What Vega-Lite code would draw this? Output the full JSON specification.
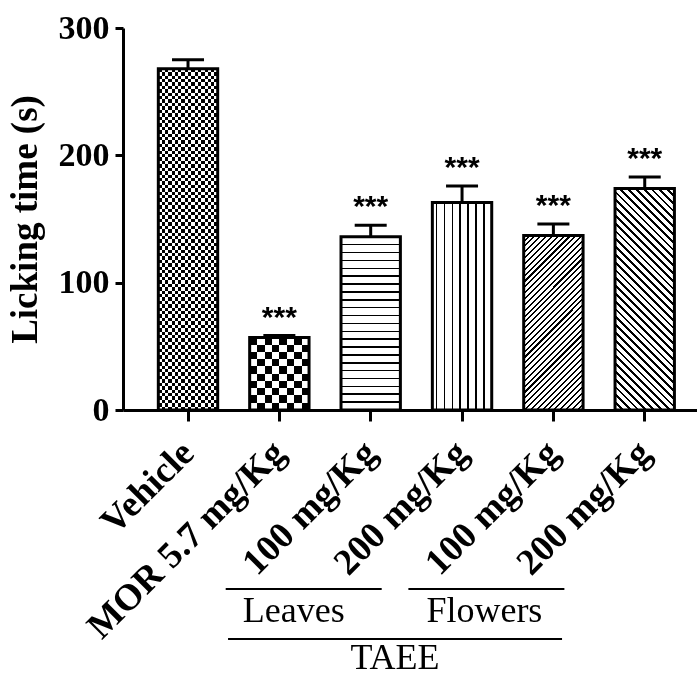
{
  "$schema": "https://vega.github.io/schema/vega-lite/v6.json",
  "width": 574,
  "height": 382,
  "autosize": "none",
  "padding": {"left": 123, "top": 28, "right": 0, "bottom": 263},
  "config": {"view": {"stroke": null}, "axis": {"domainColor": "#000", "tickColor": "#000", "labelColor": "#000", "titleColor": "#000", "grid": false}},
  "data": {"values": [
      {"key": "Vehicle", "mean": 268, "upper": 275, "sig": ""},
      {"key": "MOR", "mean": 57, "upper": 58.5, "sig": "***"},
      {"key": "L100", "mean": 136, "upper": 145, "sig": "***"},
      {"key": "L200", "mean": 163, "upper": 176, "sig": "***"},
      {"key": "F100", "mean": 137, "upper": 146, "sig": "***"},
      {"key": "F200", "mean": 174, "upper": 183, "sig": "***"}
  ]},
  "encoding": {
    "x": {
      "field": "key", "type": "nominal",
      "scale": {"domain": ["Vehicle", "MOR", "L100", "L200", "F100", "F200"], "paddingInner": 0.35, "paddingOuter": 0.317, "align": 0.61},
      "axis": {"title": null, "labelExpr": "datum.value == 'Vehicle' ? 'Vehicle' : datum.value == 'MOR' ? 'MOR 5.7 mg/Kg' : (datum.value == 'L100' || datum.value == 'F100') ? '100 mg/Kg' : '200 mg/Kg'", "labelAngle": -45, "labelAlign": "right", "labelBaseline": "middle", "labelFont": "Liberation Serif", "labelFontSize": 37, "labelFontWeight": "bold", "labelPadding": 26, "labelLimit": 500, "labelOverlap": false, "tickSize": 11, "tickWidth": 3, "domainWidth": 3}
    },
    "y": {
      "field": "mean", "type": "quantitative",
      "scale": {"domain": [0, 300], "nice": false},
      "axis": {"values": [0, 100, 200, 300], "title": "Licking time (s)", "titleFont": "Liberation Serif", "titleFontSize": 37, "titleFontWeight": "bold", "titlePadding": 14, "labelFont": "Liberation Serif", "labelFontSize": 34, "labelFontWeight": "bold", "labelPadding": 6, "labelFlush": false, "labelOverlap": false, "tickSize": 8, "tickWidth": 3, "domainWidth": 3}
    }
  },
  "layer": [
    {
      "transform": [{"filter": "datum.key == 'Vehicle'"}],
      "mark": {"type": "bar", "strokeWidth": 0, "fill": {"gradient": "linear", "x1": 0, "y1": 0, "x2": 1, "y2": 0, "stops": [{"offset":0,"color":"#000"},{"offset":0.0556,"color":"#000"},{"offset":0.0556,"color":"#fff"},{"offset":0.1111,"color":"#fff"},{"offset":0.1111,"color":"#000"},{"offset":0.1667,"color":"#000"},{"offset":0.1667,"color":"#fff"},{"offset":0.2222,"color":"#fff"},{"offset":0.2222,"color":"#000"},{"offset":0.2778,"color":"#000"},{"offset":0.2778,"color":"#fff"},{"offset":0.3333,"color":"#fff"},{"offset":0.3333,"color":"#000"},{"offset":0.3889,"color":"#000"},{"offset":0.3889,"color":"#fff"},{"offset":0.4444,"color":"#fff"},{"offset":0.4444,"color":"#000"},{"offset":0.5,"color":"#000"},{"offset":0.5,"color":"#fff"},{"offset":0.5556,"color":"#fff"},{"offset":0.5556,"color":"#000"},{"offset":0.6111,"color":"#000"},{"offset":0.6111,"color":"#fff"},{"offset":0.6667,"color":"#fff"},{"offset":0.6667,"color":"#000"},{"offset":0.7222,"color":"#000"},{"offset":0.7222,"color":"#fff"},{"offset":0.7778,"color":"#fff"},{"offset":0.7778,"color":"#000"},{"offset":0.8333,"color":"#000"},{"offset":0.8333,"color":"#fff"},{"offset":0.8889,"color":"#fff"},{"offset":0.8889,"color":"#000"},{"offset":0.9444,"color":"#000"},{"offset":0.9444,"color":"#fff"},{"offset":1,"color":"#fff"}]}}
    },
    {
      "transform": [{"filter": "datum.key == 'Vehicle'"}],
      "mark": {"type": "bar", "strokeWidth": 0, "blend": "difference", "fill": {"gradient": "linear", "x1": 0, "y1": 0, "x2": 0, "y2": 1, "stops": [{"offset":0,"color":"#000"},
{"offset":0.01,"color":"#000"},{"offset":0.01,"color":"#fff"},{"offset":0.02,"color":"#fff"},{"offset":0.02,"color":"#000"},
{"offset":0.03,"color":"#000"},{"offset":0.03,"color":"#fff"},{"offset":0.04,"color":"#fff"},{"offset":0.04,"color":"#000"},
{"offset":0.05,"color":"#000"},{"offset":0.05,"color":"#fff"},{"offset":0.06,"color":"#fff"},{"offset":0.06,"color":"#000"},
{"offset":0.07,"color":"#000"},{"offset":0.07,"color":"#fff"},{"offset":0.08,"color":"#fff"},{"offset":0.08,"color":"#000"},
{"offset":0.09,"color":"#000"},{"offset":0.09,"color":"#fff"},{"offset":0.10,"color":"#fff"},{"offset":0.10,"color":"#000"},
{"offset":0.11,"color":"#000"},{"offset":0.11,"color":"#fff"},{"offset":0.12,"color":"#fff"},{"offset":0.12,"color":"#000"},
{"offset":0.13,"color":"#000"},{"offset":0.13,"color":"#fff"},{"offset":0.14,"color":"#fff"},{"offset":0.14,"color":"#000"},
{"offset":0.15,"color":"#000"},{"offset":0.15,"color":"#fff"},{"offset":0.16,"color":"#fff"},{"offset":0.16,"color":"#000"},
{"offset":0.17,"color":"#000"},{"offset":0.17,"color":"#fff"},{"offset":0.18,"color":"#fff"},{"offset":0.18,"color":"#000"},
{"offset":0.19,"color":"#000"},{"offset":0.19,"color":"#fff"},{"offset":0.20,"color":"#fff"},{"offset":0.20,"color":"#000"},
{"offset":0.21,"color":"#000"},{"offset":0.21,"color":"#fff"},{"offset":0.22,"color":"#fff"},{"offset":0.22,"color":"#000"},
{"offset":0.23,"color":"#000"},{"offset":0.23,"color":"#fff"},{"offset":0.24,"color":"#fff"},{"offset":0.24,"color":"#000"},
{"offset":0.25,"color":"#000"},{"offset":0.25,"color":"#fff"},{"offset":0.26,"color":"#fff"},{"offset":0.26,"color":"#000"},
{"offset":0.27,"color":"#000"},{"offset":0.27,"color":"#fff"},{"offset":0.28,"color":"#fff"},{"offset":0.28,"color":"#000"},
{"offset":0.29,"color":"#000"},{"offset":0.29,"color":"#fff"},{"offset":0.30,"color":"#fff"},{"offset":0.30,"color":"#000"},
{"offset":0.31,"color":"#000"},{"offset":0.31,"color":"#fff"},{"offset":0.32,"color":"#fff"},{"offset":0.32,"color":"#000"},
{"offset":0.33,"color":"#000"},{"offset":0.33,"color":"#fff"},{"offset":0.34,"color":"#fff"},{"offset":0.34,"color":"#000"},
{"offset":0.35,"color":"#000"},{"offset":0.35,"color":"#fff"},{"offset":0.36,"color":"#fff"},{"offset":0.36,"color":"#000"},
{"offset":0.37,"color":"#000"},{"offset":0.37,"color":"#fff"},{"offset":0.38,"color":"#fff"},{"offset":0.38,"color":"#000"},
{"offset":0.39,"color":"#000"},{"offset":0.39,"color":"#fff"},{"offset":0.40,"color":"#fff"},{"offset":0.40,"color":"#000"},
{"offset":0.41,"color":"#000"},{"offset":0.41,"color":"#fff"},{"offset":0.42,"color":"#fff"},{"offset":0.42,"color":"#000"},
{"offset":0.43,"color":"#000"},{"offset":0.43,"color":"#fff"},{"offset":0.44,"color":"#fff"},{"offset":0.44,"color":"#000"},
{"offset":0.45,"color":"#000"},{"offset":0.45,"color":"#fff"},{"offset":0.46,"color":"#fff"},{"offset":0.46,"color":"#000"},
{"offset":0.47,"color":"#000"},{"offset":0.47,"color":"#fff"},{"offset":0.48,"color":"#fff"},{"offset":0.48,"color":"#000"},
{"offset":0.49,"color":"#000"},{"offset":0.49,"color":"#fff"},{"offset":0.50,"color":"#fff"},{"offset":0.50,"color":"#000"},
{"offset":0.51,"color":"#000"},{"offset":0.51,"color":"#fff"},{"offset":0.52,"color":"#fff"},{"offset":0.52,"color":"#000"},
{"offset":0.53,"color":"#000"},{"offset":0.53,"color":"#fff"},{"offset":0.54,"color":"#fff"},{"offset":0.54,"color":"#000"},
{"offset":0.55,"color":"#000"},{"offset":0.55,"color":"#fff"},{"offset":0.56,"color":"#fff"},{"offset":0.56,"color":"#000"},
{"offset":0.57,"color":"#000"},{"offset":0.57,"color":"#fff"},{"offset":0.58,"color":"#fff"},{"offset":0.58,"color":"#000"},
{"offset":0.59,"color":"#000"},{"offset":0.59,"color":"#fff"},{"offset":0.60,"color":"#fff"},{"offset":0.60,"color":"#000"},
{"offset":0.61,"color":"#000"},{"offset":0.61,"color":"#fff"},{"offset":0.62,"color":"#fff"},{"offset":0.62,"color":"#000"},
{"offset":0.63,"color":"#000"},{"offset":0.63,"color":"#fff"},{"offset":0.64,"color":"#fff"},{"offset":0.64,"color":"#000"},
{"offset":0.65,"color":"#000"},{"offset":0.65,"color":"#fff"},{"offset":0.66,"color":"#fff"},{"offset":0.66,"color":"#000"},
{"offset":0.67,"color":"#000"},{"offset":0.67,"color":"#fff"},{"offset":0.68,"color":"#fff"},{"offset":0.68,"color":"#000"},
{"offset":0.69,"color":"#000"},{"offset":0.69,"color":"#fff"},{"offset":0.70,"color":"#fff"},{"offset":0.70,"color":"#000"},
{"offset":0.71,"color":"#000"},{"offset":0.71,"color":"#fff"},{"offset":0.72,"color":"#fff"},{"offset":0.72,"color":"#000"},
{"offset":0.73,"color":"#000"},{"offset":0.73,"color":"#fff"},{"offset":0.74,"color":"#fff"},{"offset":0.74,"color":"#000"},
{"offset":0.75,"color":"#000"},{"offset":0.75,"color":"#fff"},{"offset":0.76,"color":"#fff"},{"offset":0.76,"color":"#000"},
{"offset":0.77,"color":"#000"},{"offset":0.77,"color":"#fff"},{"offset":0.78,"color":"#fff"},{"offset":0.78,"color":"#000"},
{"offset":0.79,"color":"#000"},{"offset":0.79,"color":"#fff"},{"offset":0.80,"color":"#fff"},{"offset":0.80,"color":"#000"},
{"offset":0.81,"color":"#000"},{"offset":0.81,"color":"#fff"},{"offset":0.82,"color":"#fff"},{"offset":0.82,"color":"#000"},
{"offset":0.83,"color":"#000"},{"offset":0.83,"color":"#fff"},{"offset":0.84,"color":"#fff"},{"offset":0.84,"color":"#000"},
{"offset":0.85,"color":"#000"},{"offset":0.85,"color":"#fff"},{"offset":0.86,"color":"#fff"},{"offset":0.86,"color":"#000"},
{"offset":0.87,"color":"#000"},{"offset":0.87,"color":"#fff"},{"offset":0.88,"color":"#fff"},{"offset":0.88,"color":"#000"},
{"offset":0.89,"color":"#000"},{"offset":0.89,"color":"#fff"},{"offset":0.90,"color":"#fff"},{"offset":0.90,"color":"#000"},
{"offset":0.91,"color":"#000"},{"offset":0.91,"color":"#fff"},{"offset":0.92,"color":"#fff"},{"offset":0.92,"color":"#000"},
{"offset":0.93,"color":"#000"},{"offset":0.93,"color":"#fff"},{"offset":0.94,"color":"#fff"},{"offset":0.94,"color":"#000"},
{"offset":0.95,"color":"#000"},{"offset":0.95,"color":"#fff"},{"offset":0.96,"color":"#fff"},{"offset":0.96,"color":"#000"},
{"offset":0.97,"color":"#000"},{"offset":0.97,"color":"#fff"},{"offset":0.98,"color":"#fff"},{"offset":0.98,"color":"#000"},
{"offset":0.99,"color":"#000"},{"offset":0.99,"color":"#fff"},{"offset":1,"color":"#fff"}]}}
    },
    {
      "transform": [{"filter": "datum.key == 'MOR'"}],
      "mark": {"type": "bar", "strokeWidth": 0, "fill": {"gradient": "linear", "x1": 0, "y1": 0, "x2": 1, "y2": 0, "stops": [{"offset":0,"color":"#000"},{"offset":0.125,"color":"#000"},{"offset":0.125,"color":"#fff"},{"offset":0.25,"color":"#fff"},{"offset":0.25,"color":"#000"},{"offset":0.375,"color":"#000"},{"offset":0.375,"color":"#fff"},{"offset":0.5,"color":"#fff"},{"offset":0.5,"color":"#000"},{"offset":0.625,"color":"#000"},{"offset":0.625,"color":"#fff"},{"offset":0.75,"color":"#fff"},{"offset":0.75,"color":"#000"},{"offset":0.875,"color":"#000"},{"offset":0.875,"color":"#fff"},{"offset":1,"color":"#fff"}]}}
    },
    {
      "transform": [{"filter": "datum.key == 'MOR'"}],
      "mark": {"type": "bar", "strokeWidth": 0, "blend": "difference", "fill": {"gradient": "linear", "x1": 0, "y1": 0, "x2": 0, "y2": 1, "stops": [{"offset":0,"color":"#000"},{"offset":0.1,"color":"#000"},{"offset":0.1,"color":"#fff"},{"offset":0.2,"color":"#fff"},{"offset":0.2,"color":"#000"},{"offset":0.3,"color":"#000"},{"offset":0.3,"color":"#fff"},{"offset":0.4,"color":"#fff"},{"offset":0.4,"color":"#000"},{"offset":0.5,"color":"#000"},{"offset":0.5,"color":"#fff"},{"offset":0.6,"color":"#fff"},{"offset":0.6,"color":"#000"},{"offset":0.7,"color":"#000"},{"offset":0.7,"color":"#fff"},{"offset":0.8,"color":"#fff"},{"offset":0.8,"color":"#000"},{"offset":0.9,"color":"#000"},{"offset":0.9,"color":"#fff"},{"offset":1,"color":"#fff"}]}}
    },
    {
      "transform": [{"filter": "datum.key == 'L100'"}],
      "mark": {"type": "bar", "strokeWidth": 0, "fill": {"gradient": "linear", "x1": 0, "y1": 0, "x2": 0, "y2": 1, "stops": [{"offset":0,"color":"#fff"},
{"offset":0.0410,"color":"#fff"},{"offset":0.0410,"color":"#000"},{"offset":0.0500,"color":"#000"},{"offset":0.0500,"color":"#fff"},
{"offset":0.0864,"color":"#fff"},{"offset":0.0864,"color":"#000"},{"offset":0.0954,"color":"#000"},{"offset":0.0954,"color":"#fff"},
{"offset":0.1319,"color":"#fff"},{"offset":0.1319,"color":"#000"},{"offset":0.1409,"color":"#000"},{"offset":0.1409,"color":"#fff"},
{"offset":0.1773,"color":"#fff"},{"offset":0.1773,"color":"#000"},{"offset":0.1863,"color":"#000"},{"offset":0.1863,"color":"#fff"},
{"offset":0.2228,"color":"#fff"},{"offset":0.2228,"color":"#000"},{"offset":0.2318,"color":"#000"},{"offset":0.2318,"color":"#fff"},
{"offset":0.2682,"color":"#fff"},{"offset":0.2682,"color":"#000"},{"offset":0.2772,"color":"#000"},{"offset":0.2772,"color":"#fff"},
{"offset":0.3137,"color":"#fff"},{"offset":0.3137,"color":"#000"},{"offset":0.3227,"color":"#000"},{"offset":0.3227,"color":"#fff"},
{"offset":0.3591,"color":"#fff"},{"offset":0.3591,"color":"#000"},{"offset":0.3681,"color":"#000"},{"offset":0.3681,"color":"#fff"},
{"offset":0.4046,"color":"#fff"},{"offset":0.4046,"color":"#000"},{"offset":0.4136,"color":"#000"},{"offset":0.4136,"color":"#fff"},
{"offset":0.4500,"color":"#fff"},{"offset":0.4500,"color":"#000"},{"offset":0.4590,"color":"#000"},{"offset":0.4590,"color":"#fff"},
{"offset":0.4955,"color":"#fff"},{"offset":0.4955,"color":"#000"},{"offset":0.5045,"color":"#000"},{"offset":0.5045,"color":"#fff"},
{"offset":0.5410,"color":"#fff"},{"offset":0.5410,"color":"#000"},{"offset":0.5500,"color":"#000"},{"offset":0.5500,"color":"#fff"},
{"offset":0.5864,"color":"#fff"},{"offset":0.5864,"color":"#000"},{"offset":0.5954,"color":"#000"},{"offset":0.5954,"color":"#fff"},
{"offset":0.6319,"color":"#fff"},{"offset":0.6319,"color":"#000"},{"offset":0.6409,"color":"#000"},{"offset":0.6409,"color":"#fff"},
{"offset":0.6773,"color":"#fff"},{"offset":0.6773,"color":"#000"},{"offset":0.6863,"color":"#000"},{"offset":0.6863,"color":"#fff"},
{"offset":0.7228,"color":"#fff"},{"offset":0.7228,"color":"#000"},{"offset":0.7318,"color":"#000"},{"offset":0.7318,"color":"#fff"},
{"offset":0.7682,"color":"#fff"},{"offset":0.7682,"color":"#000"},{"offset":0.7772,"color":"#000"},{"offset":0.7772,"color":"#fff"},
{"offset":0.8137,"color":"#fff"},{"offset":0.8137,"color":"#000"},{"offset":0.8227,"color":"#000"},{"offset":0.8227,"color":"#fff"},
{"offset":0.8591,"color":"#fff"},{"offset":0.8591,"color":"#000"},{"offset":0.8681,"color":"#000"},{"offset":0.8681,"color":"#fff"},
{"offset":0.9046,"color":"#fff"},{"offset":0.9046,"color":"#000"},{"offset":0.9136,"color":"#000"},{"offset":0.9136,"color":"#fff"},
{"offset":0.9500,"color":"#fff"},{"offset":0.9500,"color":"#000"},{"offset":0.9590,"color":"#000"},{"offset":0.9590,"color":"#fff"},
{"offset":1,"color":"#fff"}]}}
    },
    {
      "transform": [{"filter": "datum.key == 'L200'"}],
      "mark": {"type": "bar", "strokeWidth": 0, "fill": {"gradient": "linear", "x1": 0, "y1": 0, "x2": 1, "y2": 0, "stops": [{"offset":0,"color":"#fff"},
{"offset":0.057,"color":"#fff"},{"offset":0.057,"color":"#000"},{"offset":0.083,"color":"#000"},{"offset":0.083,"color":"#fff"},
{"offset":0.190,"color":"#fff"},{"offset":0.190,"color":"#000"},{"offset":0.216,"color":"#000"},{"offset":0.216,"color":"#fff"},
{"offset":0.324,"color":"#fff"},{"offset":0.324,"color":"#000"},{"offset":0.350,"color":"#000"},{"offset":0.350,"color":"#fff"},
{"offset":0.457,"color":"#fff"},{"offset":0.457,"color":"#000"},{"offset":0.483,"color":"#000"},{"offset":0.483,"color":"#fff"},
{"offset":0.590,"color":"#fff"},{"offset":0.590,"color":"#000"},{"offset":0.616,"color":"#000"},{"offset":0.616,"color":"#fff"},
{"offset":0.724,"color":"#fff"},{"offset":0.724,"color":"#000"},{"offset":0.750,"color":"#000"},{"offset":0.750,"color":"#fff"},
{"offset":0.857,"color":"#fff"},{"offset":0.857,"color":"#000"},{"offset":0.883,"color":"#000"},{"offset":0.883,"color":"#fff"},
{"offset":1,"color":"#fff"}]}}
    },
    {
      "transform": [{"filter": "datum.key == 'F100'"}],
      "mark": {"type": "bar", "strokeWidth": 0, "fill": {"gradient": "linear", "x1": 0, "y1": 0, "x2": 0.409, "y2": 1.2008, "stops": [{"offset":0,"color":"#fff"},
{"offset":0.0205,"color":"#fff"},{"offset":0.0205,"color":"#000"},{"offset":0.0295,"color":"#000"},{"offset":0.0295,"color":"#fff"},
{"offset":0.0455,"color":"#fff"},{"offset":0.0455,"color":"#000"},{"offset":0.0545,"color":"#000"},{"offset":0.0545,"color":"#fff"},
{"offset":0.0705,"color":"#fff"},{"offset":0.0705,"color":"#000"},{"offset":0.0795,"color":"#000"},{"offset":0.0795,"color":"#fff"},
{"offset":0.0955,"color":"#fff"},{"offset":0.0955,"color":"#000"},{"offset":0.1045,"color":"#000"},{"offset":0.1045,"color":"#fff"},
{"offset":0.1205,"color":"#fff"},{"offset":0.1205,"color":"#000"},{"offset":0.1295,"color":"#000"},{"offset":0.1295,"color":"#fff"},
{"offset":0.1455,"color":"#fff"},{"offset":0.1455,"color":"#000"},{"offset":0.1545,"color":"#000"},{"offset":0.1545,"color":"#fff"},
{"offset":0.1705,"color":"#fff"},{"offset":0.1705,"color":"#000"},{"offset":0.1795,"color":"#000"},{"offset":0.1795,"color":"#fff"},
{"offset":0.1955,"color":"#fff"},{"offset":0.1955,"color":"#000"},{"offset":0.2045,"color":"#000"},{"offset":0.2045,"color":"#fff"},
{"offset":0.2205,"color":"#fff"},{"offset":0.2205,"color":"#000"},{"offset":0.2295,"color":"#000"},{"offset":0.2295,"color":"#fff"},
{"offset":0.2455,"color":"#fff"},{"offset":0.2455,"color":"#000"},{"offset":0.2545,"color":"#000"},{"offset":0.2545,"color":"#fff"},
{"offset":0.2705,"color":"#fff"},{"offset":0.2705,"color":"#000"},{"offset":0.2795,"color":"#000"},{"offset":0.2795,"color":"#fff"},
{"offset":0.2955,"color":"#fff"},{"offset":0.2955,"color":"#000"},{"offset":0.3045,"color":"#000"},{"offset":0.3045,"color":"#fff"},
{"offset":0.3205,"color":"#fff"},{"offset":0.3205,"color":"#000"},{"offset":0.3295,"color":"#000"},{"offset":0.3295,"color":"#fff"},
{"offset":0.3455,"color":"#fff"},{"offset":0.3455,"color":"#000"},{"offset":0.3545,"color":"#000"},{"offset":0.3545,"color":"#fff"},
{"offset":0.3705,"color":"#fff"},{"offset":0.3705,"color":"#000"},{"offset":0.3795,"color":"#000"},{"offset":0.3795,"color":"#fff"},
{"offset":0.3955,"color":"#fff"},{"offset":0.3955,"color":"#000"},{"offset":0.4045,"color":"#000"},{"offset":0.4045,"color":"#fff"},
{"offset":0.4205,"color":"#fff"},{"offset":0.4205,"color":"#000"},{"offset":0.4295,"color":"#000"},{"offset":0.4295,"color":"#fff"},
{"offset":0.4455,"color":"#fff"},{"offset":0.4455,"color":"#000"},{"offset":0.4545,"color":"#000"},{"offset":0.4545,"color":"#fff"},
{"offset":0.4705,"color":"#fff"},{"offset":0.4705,"color":"#000"},{"offset":0.4795,"color":"#000"},{"offset":0.4795,"color":"#fff"},
{"offset":0.4955,"color":"#fff"},{"offset":0.4955,"color":"#000"},{"offset":0.5045,"color":"#000"},{"offset":0.5045,"color":"#fff"},
{"offset":0.5205,"color":"#fff"},{"offset":0.5205,"color":"#000"},{"offset":0.5295,"color":"#000"},{"offset":0.5295,"color":"#fff"},
{"offset":0.5455,"color":"#fff"},{"offset":0.5455,"color":"#000"},{"offset":0.5545,"color":"#000"},{"offset":0.5545,"color":"#fff"},
{"offset":0.5705,"color":"#fff"},{"offset":0.5705,"color":"#000"},{"offset":0.5795,"color":"#000"},{"offset":0.5795,"color":"#fff"},
{"offset":0.5955,"color":"#fff"},{"offset":0.5955,"color":"#000"},{"offset":0.6045,"color":"#000"},{"offset":0.6045,"color":"#fff"},
{"offset":0.6205,"color":"#fff"},{"offset":0.6205,"color":"#000"},{"offset":0.6295,"color":"#000"},{"offset":0.6295,"color":"#fff"},
{"offset":0.6455,"color":"#fff"},{"offset":0.6455,"color":"#000"},{"offset":0.6545,"color":"#000"},{"offset":0.6545,"color":"#fff"},
{"offset":0.6705,"color":"#fff"},{"offset":0.6705,"color":"#000"},{"offset":0.6795,"color":"#000"},{"offset":0.6795,"color":"#fff"},
{"offset":0.6955,"color":"#fff"},{"offset":0.6955,"color":"#000"},{"offset":0.7045,"color":"#000"},{"offset":0.7045,"color":"#fff"},
{"offset":0.7205,"color":"#fff"},{"offset":0.7205,"color":"#000"},{"offset":0.7295,"color":"#000"},{"offset":0.7295,"color":"#fff"},
{"offset":0.7455,"color":"#fff"},{"offset":0.7455,"color":"#000"},{"offset":0.7545,"color":"#000"},{"offset":0.7545,"color":"#fff"},
{"offset":0.7705,"color":"#fff"},{"offset":0.7705,"color":"#000"},{"offset":0.7795,"color":"#000"},{"offset":0.7795,"color":"#fff"},
{"offset":0.7955,"color":"#fff"},{"offset":0.7955,"color":"#000"},{"offset":0.8045,"color":"#000"},{"offset":0.8045,"color":"#fff"},
{"offset":0.8205,"color":"#fff"},{"offset":0.8205,"color":"#000"},{"offset":0.8295,"color":"#000"},{"offset":0.8295,"color":"#fff"},
{"offset":0.8455,"color":"#fff"},{"offset":0.8455,"color":"#000"},{"offset":0.8545,"color":"#000"},{"offset":0.8545,"color":"#fff"},
{"offset":0.8705,"color":"#fff"},{"offset":0.8705,"color":"#000"},{"offset":0.8795,"color":"#000"},{"offset":0.8795,"color":"#fff"},
{"offset":0.8955,"color":"#fff"},{"offset":0.8955,"color":"#000"},{"offset":0.9045,"color":"#000"},{"offset":0.9045,"color":"#fff"},
{"offset":0.9205,"color":"#fff"},{"offset":0.9205,"color":"#000"},{"offset":0.9295,"color":"#000"},{"offset":0.9295,"color":"#fff"},
{"offset":0.9455,"color":"#fff"},{"offset":0.9455,"color":"#000"},{"offset":0.9545,"color":"#000"},{"offset":0.9545,"color":"#fff"},
{"offset":0.9705,"color":"#fff"},{"offset":0.9705,"color":"#000"},{"offset":0.9795,"color":"#000"},{"offset":0.9795,"color":"#fff"},
{"offset":1,"color":"#fff"}]}}
    },
    {
      "transform": [{"filter": "datum.key == 'F200'"}],
      "mark": {"type": "bar", "strokeWidth": 0, "fill": {"gradient": "linear", "x1": 0, "y1": 1, "x2": 0.3171, "y2": -0.1831, "stops": [{"offset":0,"color":"#fff"},
{"offset":0.0228,"color":"#fff"},{"offset":0.0228,"color":"#000"},{"offset":0.0328,"color":"#000"},{"offset":0.0328,"color":"#fff"},
{"offset":0.0506,"color":"#fff"},{"offset":0.0506,"color":"#000"},{"offset":0.0606,"color":"#000"},{"offset":0.0606,"color":"#fff"},
{"offset":0.0783,"color":"#fff"},{"offset":0.0783,"color":"#000"},{"offset":0.0883,"color":"#000"},{"offset":0.0883,"color":"#fff"},
{"offset":0.1061,"color":"#fff"},{"offset":0.1061,"color":"#000"},{"offset":0.1161,"color":"#000"},{"offset":0.1161,"color":"#fff"},
{"offset":0.1339,"color":"#fff"},{"offset":0.1339,"color":"#000"},{"offset":0.1439,"color":"#000"},{"offset":0.1439,"color":"#fff"},
{"offset":0.1617,"color":"#fff"},{"offset":0.1617,"color":"#000"},{"offset":0.1717,"color":"#000"},{"offset":0.1717,"color":"#fff"},
{"offset":0.1894,"color":"#fff"},{"offset":0.1894,"color":"#000"},{"offset":0.1994,"color":"#000"},{"offset":0.1994,"color":"#fff"},
{"offset":0.2172,"color":"#fff"},{"offset":0.2172,"color":"#000"},{"offset":0.2272,"color":"#000"},{"offset":0.2272,"color":"#fff"},
{"offset":0.2450,"color":"#fff"},{"offset":0.2450,"color":"#000"},{"offset":0.2550,"color":"#000"},{"offset":0.2550,"color":"#fff"},
{"offset":0.2728,"color":"#fff"},{"offset":0.2728,"color":"#000"},{"offset":0.2828,"color":"#000"},{"offset":0.2828,"color":"#fff"},
{"offset":0.3006,"color":"#fff"},{"offset":0.3006,"color":"#000"},{"offset":0.3106,"color":"#000"},{"offset":0.3106,"color":"#fff"},
{"offset":0.3283,"color":"#fff"},{"offset":0.3283,"color":"#000"},{"offset":0.3383,"color":"#000"},{"offset":0.3383,"color":"#fff"},
{"offset":0.3561,"color":"#fff"},{"offset":0.3561,"color":"#000"},{"offset":0.3661,"color":"#000"},{"offset":0.3661,"color":"#fff"},
{"offset":0.3839,"color":"#fff"},{"offset":0.3839,"color":"#000"},{"offset":0.3939,"color":"#000"},{"offset":0.3939,"color":"#fff"},
{"offset":0.4117,"color":"#fff"},{"offset":0.4117,"color":"#000"},{"offset":0.4217,"color":"#000"},{"offset":0.4217,"color":"#fff"},
{"offset":0.4394,"color":"#fff"},{"offset":0.4394,"color":"#000"},{"offset":0.4494,"color":"#000"},{"offset":0.4494,"color":"#fff"},
{"offset":0.4672,"color":"#fff"},{"offset":0.4672,"color":"#000"},{"offset":0.4772,"color":"#000"},{"offset":0.4772,"color":"#fff"},
{"offset":0.4950,"color":"#fff"},{"offset":0.4950,"color":"#000"},{"offset":0.5050,"color":"#000"},{"offset":0.5050,"color":"#fff"},
{"offset":0.5228,"color":"#fff"},{"offset":0.5228,"color":"#000"},{"offset":0.5328,"color":"#000"},{"offset":0.5328,"color":"#fff"},
{"offset":0.5506,"color":"#fff"},{"offset":0.5506,"color":"#000"},{"offset":0.5606,"color":"#000"},{"offset":0.5606,"color":"#fff"},
{"offset":0.5783,"color":"#fff"},{"offset":0.5783,"color":"#000"},{"offset":0.5883,"color":"#000"},{"offset":0.5883,"color":"#fff"},
{"offset":0.6061,"color":"#fff"},{"offset":0.6061,"color":"#000"},{"offset":0.6161,"color":"#000"},{"offset":0.6161,"color":"#fff"},
{"offset":0.6339,"color":"#fff"},{"offset":0.6339,"color":"#000"},{"offset":0.6439,"color":"#000"},{"offset":0.6439,"color":"#fff"},
{"offset":0.6617,"color":"#fff"},{"offset":0.6617,"color":"#000"},{"offset":0.6717,"color":"#000"},{"offset":0.6717,"color":"#fff"},
{"offset":0.6894,"color":"#fff"},{"offset":0.6894,"color":"#000"},{"offset":0.6994,"color":"#000"},{"offset":0.6994,"color":"#fff"},
{"offset":0.7172,"color":"#fff"},{"offset":0.7172,"color":"#000"},{"offset":0.7272,"color":"#000"},{"offset":0.7272,"color":"#fff"},
{"offset":0.7450,"color":"#fff"},{"offset":0.7450,"color":"#000"},{"offset":0.7550,"color":"#000"},{"offset":0.7550,"color":"#fff"},
{"offset":0.7728,"color":"#fff"},{"offset":0.7728,"color":"#000"},{"offset":0.7828,"color":"#000"},{"offset":0.7828,"color":"#fff"},
{"offset":0.8006,"color":"#fff"},{"offset":0.8006,"color":"#000"},{"offset":0.8106,"color":"#000"},{"offset":0.8106,"color":"#fff"},
{"offset":0.8283,"color":"#fff"},{"offset":0.8283,"color":"#000"},{"offset":0.8383,"color":"#000"},{"offset":0.8383,"color":"#fff"},
{"offset":0.8561,"color":"#fff"},{"offset":0.8561,"color":"#000"},{"offset":0.8661,"color":"#000"},{"offset":0.8661,"color":"#fff"},
{"offset":0.8839,"color":"#fff"},{"offset":0.8839,"color":"#000"},{"offset":0.8939,"color":"#000"},{"offset":0.8939,"color":"#fff"},
{"offset":0.9117,"color":"#fff"},{"offset":0.9117,"color":"#000"},{"offset":0.9217,"color":"#000"},{"offset":0.9217,"color":"#fff"},
{"offset":0.9394,"color":"#fff"},{"offset":0.9394,"color":"#000"},{"offset":0.9494,"color":"#000"},{"offset":0.9494,"color":"#fff"},
{"offset":0.9672,"color":"#fff"},{"offset":0.9672,"color":"#000"},{"offset":0.9772,"color":"#000"},{"offset":0.9772,"color":"#fff"},
{"offset":1,"color":"#fff"}]}}
    },
    {
      "mark": {"type": "bar", "fillOpacity": 0, "stroke": "#000", "strokeWidth": 3}
    },
    {
      "mark": {"type": "rule", "color": "#000", "strokeWidth": 3},
      "encoding": {"y2": {"field": "upper"}}
    },
    {
      "mark": {"type": "tick", "color": "#000", "thickness": 3, "size": 32, "opacity": 1},
      "encoding": {"y": {"field": "upper", "type": "quantitative", "scale": {"domain": [0, 300], "nice": false}, "axis": {"values": [0, 100, 200, 300], "title": "Licking time (s)", "titleFont": "Liberation Serif", "titleFontSize": 37, "titleFontWeight": "bold", "titlePadding": 14, "labelFont": "Liberation Serif", "labelFontSize": 34, "labelFontWeight": "bold", "labelPadding": 6, "labelFlush": false, "labelOverlap": false, "tickSize": 8, "tickWidth": 3, "domainWidth": 3}}}
    },
    {
      "mark": {"type": "text", "font": "Liberation Sans", "fontSize": 30, "fontWeight": "bold", "baseline": "alphabetic", "align": "center", "dy": -9, "color": "#000"},
      "encoding": {
        "y": {"field": "upper", "type": "quantitative", "scale": {"domain": [0, 300], "nice": false}, "axis": {"values": [0, 100, 200, 300], "title": "Licking time (s)", "titleFont": "Liberation Serif", "titleFontSize": 37, "titleFontWeight": "bold", "titlePadding": 14, "labelFont": "Liberation Serif", "labelFontSize": 34, "labelFontWeight": "bold", "labelPadding": 6, "labelFlush": false, "labelOverlap": false, "tickSize": 8, "tickWidth": 3, "domainWidth": 3}},
        "text": {"field": "sig"}
      }
    },
    {
      "transform": [{"filter": "datum.key == 'L100' || datum.key == 'F100'"}],
      "mark": {"type": "tick", "color": "#000", "thickness": 2, "size": 156, "xOffset": -67, "opacity": 1},
      "encoding": {"y": {"datum": -140.6, "type": "quantitative", "scale": {"domain": [0, 300], "nice": false}, "axis": {"values": [0, 100, 200, 300], "title": "Licking time (s)", "titleFont": "Liberation Serif", "titleFontSize": 37, "titleFontWeight": "bold", "titlePadding": 14, "labelFont": "Liberation Serif", "labelFontSize": 34, "labelFontWeight": "bold", "labelPadding": 6, "labelFlush": false, "labelOverlap": false, "tickSize": 8, "tickWidth": 3, "domainWidth": 3}}}
    },
    {
      "transform": [{"filter": "datum.key == 'L200'"}],
      "mark": {"type": "tick", "color": "#000", "thickness": 2, "size": 334, "xOffset": -67, "opacity": 1},
      "encoding": {"y": {"datum": -179.8, "type": "quantitative", "scale": {"domain": [0, 300], "nice": false}, "axis": {"values": [0, 100, 200, 300], "title": "Licking time (s)", "titleFont": "Liberation Serif", "titleFontSize": 37, "titleFontWeight": "bold", "titlePadding": 14, "labelFont": "Liberation Serif", "labelFontSize": 34, "labelFontWeight": "bold", "labelPadding": 6, "labelFlush": false, "labelOverlap": false, "tickSize": 8, "tickWidth": 3, "domainWidth": 3}}}
    },
    {
      "transform": [{"filter": "datum.key == 'L100'"}],
      "mark": {"type": "text", "text": "Leaves", "font": "Liberation Serif", "fontSize": 36, "align": "center", "baseline": "alphabetic", "dx": -77, "color": "#000"},
      "encoding": {"y": {"datum": -166.5, "type": "quantitative", "scale": {"domain": [0, 300], "nice": false}, "axis": {"values": [0, 100, 200, 300], "title": "Licking time (s)", "titleFont": "Liberation Serif", "titleFontSize": 37, "titleFontWeight": "bold", "titlePadding": 14, "labelFont": "Liberation Serif", "labelFontSize": 34, "labelFontWeight": "bold", "labelPadding": 6, "labelFlush": false, "labelOverlap": false, "tickSize": 8, "tickWidth": 3, "domainWidth": 3}}}
    },
    {
      "transform": [{"filter": "datum.key == 'F100'"}],
      "mark": {"type": "text", "text": "Flowers", "font": "Liberation Serif", "fontSize": 36, "align": "center", "baseline": "alphabetic", "dx": -69, "color": "#000"},
      "encoding": {"y": {"datum": -166.5, "type": "quantitative", "scale": {"domain": [0, 300], "nice": false}, "axis": {"values": [0, 100, 200, 300], "title": "Licking time (s)", "titleFont": "Liberation Serif", "titleFontSize": 37, "titleFontWeight": "bold", "titlePadding": 14, "labelFont": "Liberation Serif", "labelFontSize": 34, "labelFontWeight": "bold", "labelPadding": 6, "labelFlush": false, "labelOverlap": false, "tickSize": 8, "tickWidth": 3, "domainWidth": 3}}}
    },
    {
      "transform": [{"filter": "datum.key == 'L200'"}],
      "mark": {"type": "text", "text": "TAEE", "font": "Liberation Serif", "fontSize": 36, "align": "center", "baseline": "alphabetic", "dx": -67, "color": "#000"},
      "encoding": {"y": {"datum": -203.3, "type": "quantitative", "scale": {"domain": [0, 300], "nice": false}, "axis": {"values": [0, 100, 200, 300], "title": "Licking time (s)", "titleFont": "Liberation Serif", "titleFontSize": 37, "titleFontWeight": "bold", "titlePadding": 14, "labelFont": "Liberation Serif", "labelFontSize": 34, "labelFontWeight": "bold", "labelPadding": 6, "labelFlush": false, "labelOverlap": false, "tickSize": 8, "tickWidth": 3, "domainWidth": 3}}}
    }
  ]
}
